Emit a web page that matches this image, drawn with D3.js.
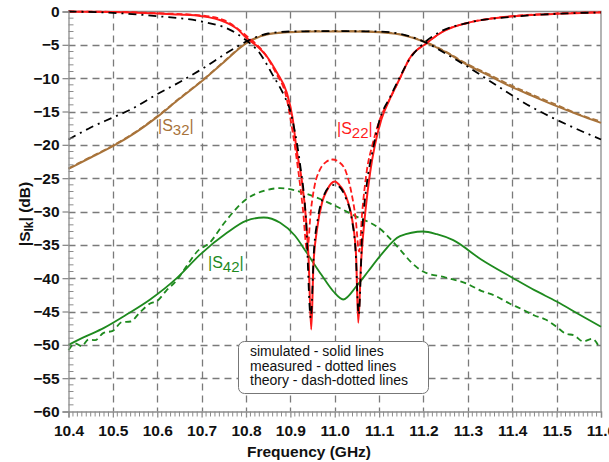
<!DOCTYPE html>
<html>
<head>
<meta charset="utf-8">
<script src="https://cdn.jsdelivr.net/npm/d3@7"></script>
<style>
  html, body { margin: 0; padding: 0; background: #fff; }
  svg { display: block; font-family: "Liberation Sans", Arial, sans-serif; }
</style>
</head>
<body>
<svg id="chart" width="609" height="462"></svg>
<script>
// Axis ticks
const freqTicks = [10.4, 10.5, 10.6, 10.7, 10.8, 10.9, 11.0, 11.1, 11.2, 11.3, 11.4, 11.5, 11.6];
const dbTicks = [0, -5, -10, -15, -20, -25, -30, -35, -40, -45, -50, -55, -60];

// |S22| simulated (solid red)
const s22Sim = [[10.4,-0.02],[10.5,-0.08],[10.6,-0.3],[10.65,-0.45],[10.7,-0.7],[10.75,-1.5],[10.78,-2.6],[10.8,-3.9],[10.825,-5.2],[10.847,-6.75],[10.87,-9.2],[10.892,-12.2],[10.905,-16],[10.914,-20.7],[10.925,-25],[10.935,-31],[10.941,-37],[10.947,-47.7],[10.952,-38],[10.96,-32.7],[10.972,-28.5],[10.982,-26.9],[10.992,-25.8],[11.0,-25.5],[11.01,-26],[11.02,-26.9],[11.03,-28.6],[11.04,-31.5],[11.048,-36.5],[11.053,-46.7],[11.059,-38],[11.069,-30],[11.08,-24],[11.09,-20.2],[11.105,-16.2],[11.125,-13],[11.147,-10],[11.169,-7],[11.207,-4.75],[11.244,-3],[11.297,-1.75],[11.35,-1.1],[11.395,-0.75],[11.5,-0.35],[11.6,-0.15]];

// |S22| measured (dashed red)
const s22Meas = [[10.4,0],[10.5,-0.05],[10.6,-0.25],[10.7,-0.6],[10.75,-1.3],[10.8,-3.6],[10.845,-6.6],[10.868,-9.3],[10.89,-12.6],[10.905,-18],[10.918,-24],[10.928,-29.5],[10.938,-36],[10.946,-30],[10.955,-26],[10.966,-23.8],[10.98,-22.6],[10.995,-22.2],[11.01,-22.6],[11.025,-24],[11.037,-27],[11.047,-31],[11.055,-36],[11.062,-30],[11.072,-24],[11.085,-20],[11.1,-16.5],[11.125,-13],[11.147,-10],[11.169,-7],[11.207,-4.75],[11.244,-3],[11.3,-1.7],[11.4,-0.7],[11.5,-0.3],[11.6,-0.1]];

// |S22| theory (dash-dotted black)
const s22Theory = [[10.4,0],[10.5,-0.2],[10.6,-0.7],[10.7,-1.5],[10.764,-2.75],[10.8,-4.3],[10.831,-6.25],[10.86,-9.5],[10.885,-12.5],[10.899,-14.75],[10.91,-18],[10.922,-23],[10.935,-31],[10.946,-46],[10.953,-36],[10.962,-31],[10.976,-27.5],[10.99,-26.2],[11.0,-26],[11.012,-26.4],[11.025,-28],[11.038,-31],[11.047,-36],[11.054,-45.5],[11.062,-33],[11.072,-26],[11.085,-21],[11.1,-16.5],[11.125,-12.8],[11.147,-9.8],[11.17,-7],[11.2,-4.8],[11.236,-3.1],[11.3,-1.7],[11.4,-0.8],[11.5,-0.35],[11.6,-0.15]];

// |S32| simulated (solid brown) and measured (dotted brown)
const s32Sim = [[10.4,-23.6],[10.45,-21.9],[10.5,-20.2],[10.55,-18.2],[10.6,-15.8],[10.65,-13.1],[10.705,-10.2],[10.75,-7.6],[10.8,-4.8],[10.847,-3.45],[10.9,-3.1],[10.95,-3.0],[11.0,-3.0],[11.05,-3.0],[11.1,-3.1],[11.147,-3.45],[11.207,-4.7],[11.25,-6.1],[11.297,-7.95],[11.35,-9.7],[11.395,-11.2],[11.45,-12.8],[11.5,-14.2],[11.55,-15.5],[11.6,-16.7]];
const s32Meas = [[10.4,-23.5],[10.45,-21.8],[10.5,-20.1],[10.55,-18.1],[10.6,-15.7],[10.65,-13.0],[10.705,-10.1],[10.75,-7.5],[10.8,-4.7],[10.847,-3.4],[10.9,-3.05],[10.95,-2.95],[11.0,-2.95],[11.05,-2.95],[11.1,-3.05],[11.147,-3.4],[11.207,-4.6],[11.25,-6.0],[11.297,-7.8],[11.35,-9.5],[11.395,-11.0],[11.45,-12.6],[11.5,-14.0],[11.55,-15.4],[11.6,-16.5]];

// |S32| theory (dash-dotted black)
const s32Theory = [[10.4,-19.2],[10.45,-17.4],[10.5,-15.9],[10.54,-14.7],[10.6,-12.4],[10.65,-10.6],[10.705,-8.45],[10.757,-6.2],[10.81,-4.2],[10.85,-3.3],[10.9,-3.0],[11.0,-2.95],[11.1,-3.0],[11.15,-3.4],[11.2,-4.5],[11.26,-6.7],[11.3,-8.3],[11.35,-10.45],[11.44,-14.2],[11.523,-16.95],[11.6,-19.2]];

// |S42| simulated (solid green)
const s42Sim = [[10.4,-50],[10.44,-48.7],[10.479,-47.5],[10.53,-45.5],[10.584,-43.2],[10.644,-40],[10.696,-36.5],[10.757,-33.2],[10.8,-31.4],[10.84,-30.9],[10.877,-31.7],[10.91,-33.6],[10.937,-36.2],[10.97,-39.5],[10.997,-42],[11.019,-43.2],[11.049,-41.2],[11.075,-39],[11.102,-36.7],[11.147,-33.7],[11.199,-33.0],[11.23,-33.4],[11.267,-34.3],[11.33,-37.2],[11.402,-40],[11.45,-41.8],[11.5,-43.5],[11.55,-45.4],[11.6,-47.3]];

// |S42| measured (dotted green)
const s42Meas = [[10.4,-50.8],[10.415,-49.8],[10.43,-50.2],[10.445,-49.2],[10.46,-49.3],[10.479,-48.2],[10.5,-47.9],[10.52,-46.6],[10.54,-46.5],[10.56,-45.2],[10.584,-43.8],[10.6,-43.4],[10.62,-41.9],[10.644,-40.3],[10.67,-37.8],[10.69,-36],[10.718,-34.7],[10.75,-31.8],[10.8,-28.2],[10.84,-26.9],[10.877,-26.5],[10.93,-27.2],[10.98,-28.5],[11.05,-30.8],[11.1,-32.5],[11.147,-35.7],[11.175,-37.8],[11.199,-39],[11.25,-39.9],[11.297,-40.8],[11.33,-41.9],[11.36,-42.6],[11.394,-43.8],[11.42,-44.6],[11.45,-45.6],[11.475,-46.2],[11.5,-47.3],[11.52,-48.3],[11.54,-48.6],[11.56,-49.5],[11.58,-49.1],[11.597,-50.5]];

const svg = d3.select("#chart");
const margin = { left: 68.5, right: 601, top: 11.5, bottom: 411.5 };

const x = d3.scaleLinear().domain([10.4, 11.6]).range([margin.left, margin.right]);
const y = d3.scaleLinear().domain([-60, 0]).range([margin.bottom, margin.top]);

const gridColor = "#7a7a7a";
const axisColor = "#8c8c8c";
const labelFont = "bold 15.5px 'Liberation Sans', Arial, sans-serif";

// Dashed grid
const grid = svg.append("g");
grid.selectAll("line.vx").data(freqTicks.slice(1, -1)).join("line")
  .attr("x1", d => Math.round(x(d)) + 0.5).attr("x2", d => Math.round(x(d)) + 0.5)
  .attr("y1", margin.top).attr("y2", margin.bottom)
  .attr("stroke", gridColor).attr("stroke-width", 1.3).attr("stroke-dasharray", "7,5");
grid.selectAll("line.hy").data(dbTicks.slice(1, -1)).join("line")
  .attr("y1", d => Math.round(y(d)) + 0.5).attr("y2", d => Math.round(y(d)) + 0.5)
  .attr("x1", margin.left).attr("x2", margin.right)
  .attr("stroke", gridColor).attr("stroke-width", 1.3).attr("stroke-dasharray", "7,5");

// Frame (top and right)
svg.append("path")
  .attr("d", `M${margin.left},${margin.top}H${margin.right}V${margin.bottom}`)
  .attr("fill", "none").attr("stroke", axisColor).attr("stroke-width", 1.3);

// Lines
const line = d3.line().x(d => x(d[0])).y(d => y(d[1])).curve(d3.curveMonotoneX);
const plot = svg.append("g");
function draw(data, color, width, dash) {
  plot.append("path").datum(data)
    .attr("d", line)
    .attr("fill", "none")
    .attr("stroke", color)
    .attr("stroke-width", width)
    .attr("stroke-linejoin", "round")
    .attr("stroke-dasharray", dash || null);
}
const red = "#ff1a1a", brown = "#a8733a", green = "#1e8a1e";

draw(s42Sim, green, 1.8);
draw(s42Meas, green, 1.8, "6,4");
draw(s32Sim, brown, 2);
draw(s32Meas, brown, 1.6, "6,3");
draw(s22Sim, red, 2);
draw(s22Meas, red, 1.8, "6,3");
draw(s32Theory, "#000", 1.8, "8,5,2,5");
draw(s22Theory, "#000", 1.8, "8,5,2,5");

// Axes
const xAxis = d3.axisBottom(x).tickValues(freqTicks).tickFormat(d3.format(".1f")).tickSize(6).tickPadding(7);
const gx = svg.append("g").attr("transform", `translate(0,${margin.bottom})`).call(xAxis);
gx.select(".domain").attr("stroke", axisColor).attr("stroke-width", 1.3);
gx.selectAll(".tick line").attr("stroke", axisColor).attr("stroke-width", 1.3);
gx.selectAll(".tick text").style("font", labelFont).attr("fill", "#111");

const xMinor = d3.range(0, 121).map(i => 10.4 + i * 0.01).filter((d, i) => i % 10 !== 0);
svg.append("g").selectAll("line").data(xMinor).join("line")
  .attr("x1", d => x(d)).attr("x2", d => x(d))
  .attr("y1", margin.bottom).attr("y2", margin.bottom + 5)
  .attr("stroke", axisColor).attr("stroke-width", 1);

const yAxis = d3.axisLeft(y).tickValues(dbTicks).tickFormat(d3.format("d")).tickSize(6).tickPadding(3);
const gy = svg.append("g").attr("transform", `translate(${margin.left},0)`).call(yAxis);
gy.select(".domain").attr("stroke", axisColor).attr("stroke-width", 1.3);
gy.selectAll(".tick line").attr("stroke", axisColor).attr("stroke-width", 1.3);
gy.selectAll(".tick text").style("font", labelFont).attr("fill", "#111");

const yMinor = d3.range(-60, 1).filter(d => d % 5 !== 0);
svg.append("g").selectAll("line").data(yMinor).join("line")
  .attr("x1", margin.left).attr("x2", margin.left + 5)
  .attr("y1", d => y(d)).attr("y2", d => y(d))
  .attr("stroke", axisColor).attr("stroke-width", 1);

// Axis titles
svg.append("text")
  .attr("x", 309).attr("y", 457)
  .attr("text-anchor", "middle")
  .style("font", labelFont).attr("fill", "#111")
  .text("Frequency (GHz)");

const yTitle = svg.append("text")
  .attr("transform", "translate(30,214) rotate(-90)")
  .attr("text-anchor", "middle")
  .style("font", labelFont).attr("fill", "#111");
yTitle.append("tspan").text("|S");
yTitle.append("tspan").attr("dy", 3).style("font-size", "12px").text("lk");
yTitle.append("tspan").attr("dy", -3).text("| (dB)");

// Curve labels with subscripts
function curveLabel(px, py, sub, color) {
  const t = svg.append("text").attr("x", px).attr("y", py)
    .style("font", "16px 'Liberation Sans', Arial, sans-serif").attr("fill", color);
  t.append("tspan").text("|S");
  t.append("tspan").attr("dy", 4).style("font-size", "15px").text(sub);
  t.append("tspan").attr("dy", -4).text("|");
}
curveLabel(158, 131, "32", brown);
curveLabel(337, 134, "22", red);
curveLabel(208, 268, "42", green);

// Legend box
const lg = svg.append("g");
lg.append("rect")
  .attr("x", 238.5).attr("y", 341.5).attr("width", 190).attr("height", 52)
  .attr("rx", 6).attr("ry", 6)
  .attr("fill", "#fff").attr("stroke", "#777").attr("stroke-width", 1);
const legendLines = ["simulated - solid lines", "measured - dotted lines", "theory - dash-dotted lines"];
lg.selectAll("text").data(legendLines).join("text")
  .attr("x", 250).attr("y", (d, i) => 356 + i * 14.7)
  .style("font", "14px 'Liberation Sans', Arial, sans-serif").attr("fill", "#111")
  .text(d => d);
</script>
</body>
</html>
